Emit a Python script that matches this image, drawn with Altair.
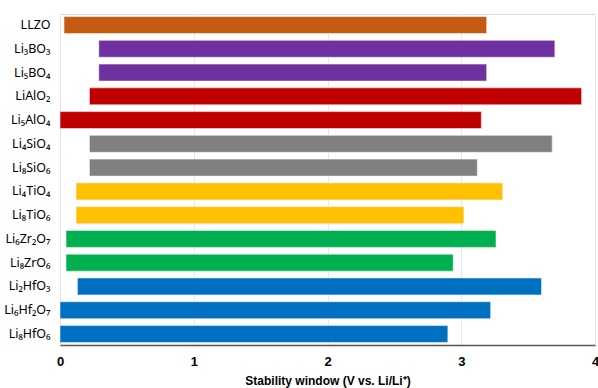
import altair as alt
import pandas as pd

# Electrochemical stability windows of Li-containing oxide coatings
materials = ["LLZO", "Li₃BO₃", "Li₅BO₄", "LiAlO₂", "Li₅AlO₄", "Li₄SiO₄", "Li₈SiO₆",
             "Li₄TiO₄", "Li₈TiO₆", "Li₆Zr₂O₇", "Li₈ZrO₆", "Li₂HfO₃", "Li₆Hf₂O₇", "Li₈HfO₆"]
lower = [0.03, 0.29, 0.29, 0.22, 0.0, 0.22, 0.22, 0.12, 0.12, 0.045, 0.045, 0.13, 0.0, 0.0]
upper = [3.19, 3.70, 3.19, 3.90, 3.15, 3.68, 3.12, 3.31, 3.02, 3.26, 2.94, 3.60, 3.22, 2.90]
family = ["LLZO", "B", "B", "Al", "Al", "Si", "Si", "Ti", "Ti", "Zr", "Zr", "Hf", "Hf", "Hf"]

family_names = ["LLZO", "B", "Al", "Si", "Ti", "Zr", "Hf"]
family_colors = ["#C55A11", "#7030A0", "#C00000", "#808080", "#FFC000", "#00B050", "#0070C0"]

df = pd.DataFrame({"material": materials, "low": lower, "high": upper, "family": family})

chart = (
    alt.Chart(df)
    .mark_bar(size=17, stroke="#f2f2f2", strokeWidth=0.6)
    .encode(
        x=alt.X(
            "low:Q",
            scale=alt.Scale(domain=[0, 4], nice=False),
            axis=alt.Axis(
                title="Stability window (V vs. Li/Li⁺)",
                values=[0, 1, 2, 3, 4],
                format="d",
                ticks=False,
                labelFont="Liberation Sans",
                labelFontWeight="bold",
                labelFontSize=13,
                labelColor="#000000",
                labelPadding=10,
                labelFlush=False,
                titleFont="Liberation Sans",
                titleFontWeight="bold",
                titleFontSize=12,
                titleColor="#000000",
                titlePadding=7,
                domainColor="#555555",
                domainWidth=1.5,
                grid=True,
                gridColor="#e6e6e6",
                gridWidth=1,
            ),
        ),
        x2="high:Q",
        y=alt.Y(
            "material:N",
            sort=materials,
            scale=alt.Scale(paddingInner=0.27, paddingOuter=0.1),
            axis=alt.Axis(
                title=None,
                ticks=False,
                domain=False,
                labelFont="Noto Sans",
                labelFontSize=12.5,
                labelColor="#000000",
                labelPadding=10,
            ),
        ),
        color=alt.Color(
            "family:N",
            scale=alt.Scale(domain=family_names, range=family_colors),
            legend=None,
        ),
    )
    .properties(
        width=535,
        height=331,
        autosize=alt.AutoSizeParams(type="none"),
        padding={"left": 60, "top": 14, "right": 3, "bottom": 43},
    )
    .configure_view(stroke="#555555", strokeWidth=1.5)
    .configure(background="#ffffff")
)

chart.save("out.html", embed_options={"renderer": "svg", "actions": False})
